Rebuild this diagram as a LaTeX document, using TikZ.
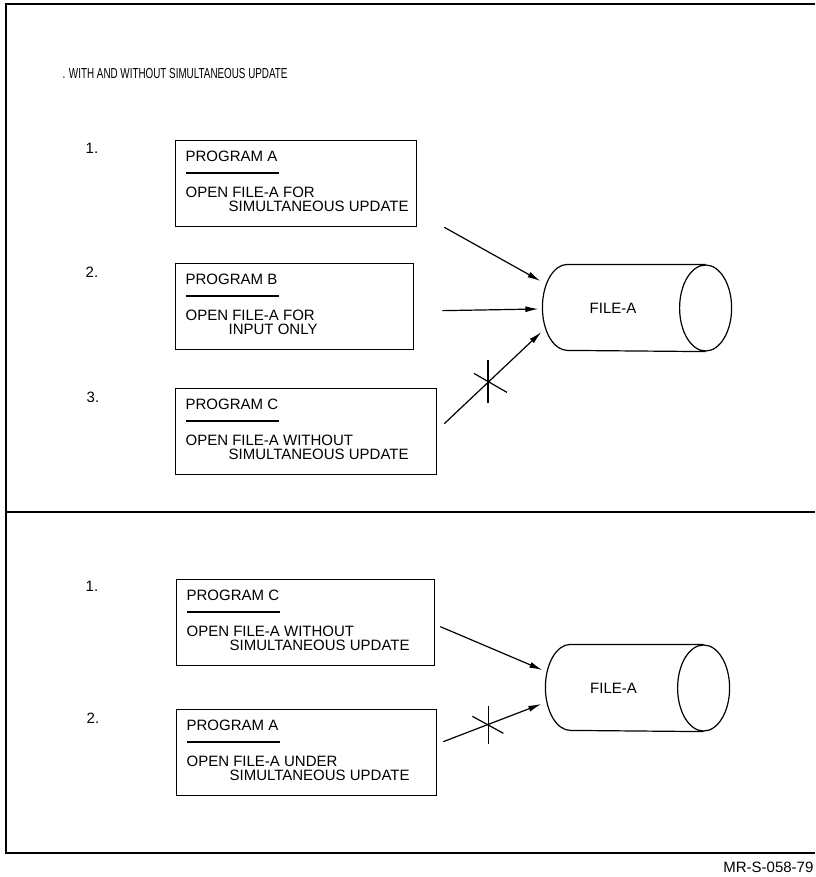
\documentclass[tikz,border=0pt]{standalone}
\usepackage{fontspec}
\setmainfont{Liberation Sans}
\usetikzlibrary{arrows.meta, positioning}

\begin{document}
\begin{tikzpicture}[x=1pt, y=-1pt, >={Latex[length=13pt, width=6pt]}, line width=1.2pt,
    hop/.style={draw, line width=1.3pt, minimum height=86, inner sep=0pt, anchor=north west},
    chu/.style={font=\fontsize{15}{17}\selectfont, inner sep=0pt, anchor=west},
    so/.style={font=\fontsize{15}{17}\selectfont, inner sep=0pt}]
    \useasboundingbox (0,0) rectangle (815,877);

    % Khung
    \draw[line width=1.5pt] (815,4) -- (6,4) -- (6,853) -- (815,853);
    \draw[line width=1.3pt] (6,512) -- (815,512);

    % Tiêu đề
    \node[chu, font=\fontsize{14.5}{17}\selectfont] (tieude) at (62,74)
        {\scalebox{0.68}[1]{. WITH AND WITHOUT SIMULTANEOUS UPDATE}};

    % Số thứ tự
    \node[so] (n1) at (92,148) {1.};
    \node[so] (n2) at (92,272) {2.};
    \node[so] (n3) at (93,397) {3.};
    \node[so] (m1) at (92,586) {1.};
    \node[so] (m2) at (93,718) {2.};

    % Các hộp chương trình
    \foreach \n/\x/\y/\w/\t/\a/\b in {
        progA/175/140/241/PROGRAM A/OPEN FILE-A FOR/SIMULTANEOUS UPDATE,
        progB/175/263/238/PROGRAM B/OPEN FILE-A FOR/INPUT ONLY,
        progC/175/388/261/PROGRAM C/OPEN FILE-A WITHOUT/SIMULTANEOUS UPDATE,
        progCC/176/579/258/PROGRAM C/OPEN FILE-A WITHOUT/SIMULTANEOUS UPDATE,
        progAA/176/709/260/PROGRAM A/OPEN FILE-A UNDER/SIMULTANEOUS UPDATE}
    {
        \node[hop, minimum width=\w] (\n) at (\x,\y) {};
        \node[chu] (\n-t) at ([shift={(10,16)}]\n.north west) {\t};
        \draw[line width=1.6pt] ([shift={(11,33)}]\n.north west) -- ++(93,0);
        \node[chu] (\n-a) at ([shift={(10,52)}]\n.north west) {\a};
        \node[chu] (\n-b) at ([shift={(53,66)}]\n.north west) {\b};
    }

    % Tệp FILE-A (hình trụ)
    \foreach \n/\x/\y/\w in {fileA/637/308/188, fileB/637.5/688/183}
    {
        \node[minimum width=\w, minimum height=86, inner sep=0pt] (\n) at (\x,\y) {};
        \node[so] (\n-t) at ([xshift=-24]\n.center) {FILE-A};
        \draw ([xshift=-26]\n.east) ellipse [x radius=26, y radius=43];
        \draw ([xshift=-26]\n.north east) -- ([xshift=25]\n.north west)
            arc[start angle=270, end angle=90, x radius=25, y radius=43]
            -- ([xshift=-26]\n.south east);
    }

    % Mũi tên phần trên
    \coordinate (sA) at ([xshift=27]progA.south east);
    \coordinate (sB) at ([shift={(28,4)}]progB.east);
    \coordinate (sC) at ([shift={(7,-8)}]progC.east);
    \draw[->] (sA) -- ([shift={(-2,-27)}]fileA.west);
    \draw[->] (sB) -- ([shift={(-4,1)}]fileA.west);
    \draw[->] (sC) -- coordinate[pos=0.45] (xC) ([shift={(-1,24)}]fileA.west);
    \draw (xC) ++(0,-22) -- ++(0,43);
    \draw (xC) ++(-14,-9) -- ++(33,19);

    % Mũi tên phần dưới
    \coordinate (sCC) at ([shift={(5,4)}]progCC.east);
    \coordinate (sAA) at ([shift={(6,-11)}]progAA.east);
    \draw[->] (sCC) -- ([shift={(-3,-18)}]fileB.west);
    \draw[->] (sAA) -- coordinate[pos=0.46] (xAA) ([shift={(-4,16)}]fileB.west);
    \draw (xAA) ++(0,-18) -- ++(0,38);
    \draw (xAA) ++(-16,-8) -- ++(31,17);

    % Mã hình
    \node[so, anchor=east] (ma) at (814,867) {MR-S-058-79};
\end{tikzpicture}
\end{document}
